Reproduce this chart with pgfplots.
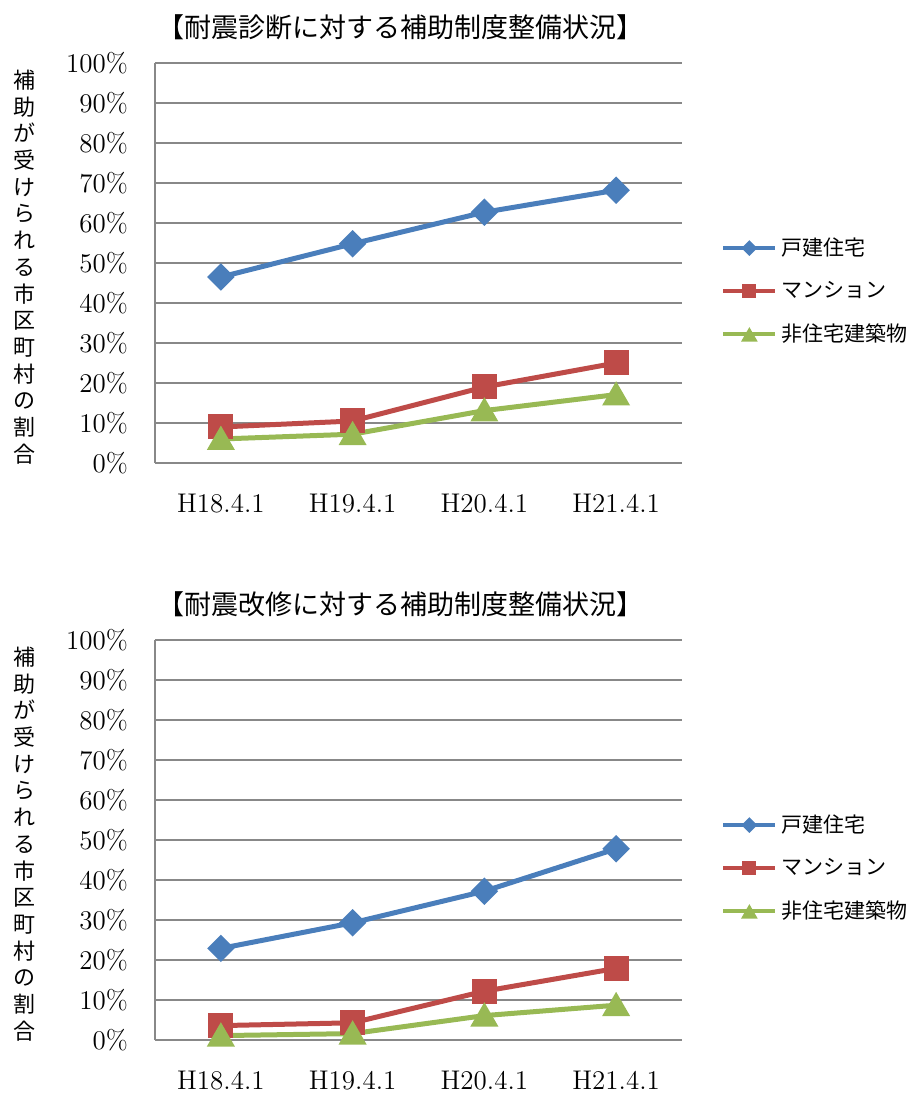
\documentclass[border=0pt]{standalone}
\usepackage{fontspec}
\newfontfamily\jp{Noto Sans CJK JP}
\usepackage{pgfplots}
\pgfplotsset{compat=1.18}

\definecolor{exblue}{HTML}{4A7EBB}
\definecolor{exred}{HTML}{BE4B48}
\definecolor{exgreen}{HTML}{98B954}
\definecolor{gridgray}{HTML}{888888}

\pgfplotstableread{
x kodate mansion hijutaku
0 46.5  9.0  6.0
1 54.8 10.5  7.2
2 62.7 19.0 13.1
3 68.2 25.0 17.1
}\shindan

\pgfplotstableread{
x kodate mansion hijutaku
0 22.9  3.6  1.1
1 29.3  4.3  1.6
2 37.2 12.2  6.1
3 47.8 17.9  8.7
}\kaishu

\pgfplotsset{
  hojo/.style={
    scale only axis,
    width=263.5pt, height=200pt,
    anchor=south west,
    xmin=-0.5, xmax=3.5,
    ymin=0, ymax=100,
    xtick={0,1,2,3},
    xticklabels={H18.4.1,H19.4.1,H20.4.1,H21.4.1},
    ytick={0,10,...,100},
    yticklabel={\pgfmathprintnumber{\tick}\%},
    /pgf/number format/assume math mode=true,
    axis x line=bottom, axis y line=left,
    axis line style={-, gridgray, line width=0.8pt},
    ymajorgrids, grid style={gridgray, line width=0.8pt},
    major tick length=0pt,
    tick label style={font=\fontsize{13.5}{16}\selectfont},
    yticklabel style={xshift=-9pt},
    xticklabel style={yshift=-11pt},
    title style={at={(0.465,1)}, anchor=center, yshift=12pt,
      font=\jp\fontsize{13.5}{16}\selectfont},
    ylabel style={rotate=-90, at={(axis description cs:-0.247,0.49)},
      anchor=center, align=center, font=\jp\fontsize{11}{13.35}\selectfont},
    ylabel={補\\助\\が\\受\\け\\ら\\れ\\る\\市\\区\\町\\村\\の\\割\\合},
    legend style={at={(1.07,0.43)}, anchor=west, draw=none, fill=none,
      font=\jp\fontsize{10.5}{12}\selectfont, row sep=7.5pt,
      inner sep=0pt},
    legend cell align=left,
    legend image code/.code={
      \draw[mark repeat=2, mark phase=2, #1, line width=2pt,
        /tikz/every mark/.append style={scale=0.5}]
        plot coordinates {(0pt,0pt) (13pt,0pt) (26pt,0pt)};},
    line width=2.5pt,
  },
  kodate/.style={exblue, mark=square*, mark options={rotate=45, mark size=3.6pt}},
  mansion/.style={exred, mark=square*, mark options={mark size=5pt}},
  hijutaku/.style={exgreen, mark=triangle*, mark options={mark size=5.6pt, yshift=-1.4pt}},
}

\begin{document}
\begin{tikzpicture}
\useasboundingbox (0pt,0pt) rectangle (455pt,546.5pt);

\begin{axis}[hojo, at={(77.5pt,315pt)},
  title={【耐震診断に対する補助制度整備状況】}]
\addplot[kodate] table[x=x, y=kodate] {\shindan};
\addlegendentry{戸建住宅}
\addplot[mansion] table[x=x, y=mansion] {\shindan};
\addlegendentry{マンション}
\addplot[hijutaku] table[x=x, y=hijutaku] {\shindan};
\addlegendentry{非住宅建築物}
\end{axis}

\begin{axis}[hojo, at={(77.5pt,26.5pt)},
  title={【耐震改修に対する補助制度整備状況】}]
\addplot[kodate] table[x=x, y=kodate] {\kaishu};
\addlegendentry{戸建住宅}
\addplot[mansion] table[x=x, y=mansion] {\kaishu};
\addlegendentry{マンション}
\addplot[hijutaku] table[x=x, y=hijutaku] {\kaishu};
\addlegendentry{非住宅建築物}
\end{axis}
\end{tikzpicture}
\end{document}
